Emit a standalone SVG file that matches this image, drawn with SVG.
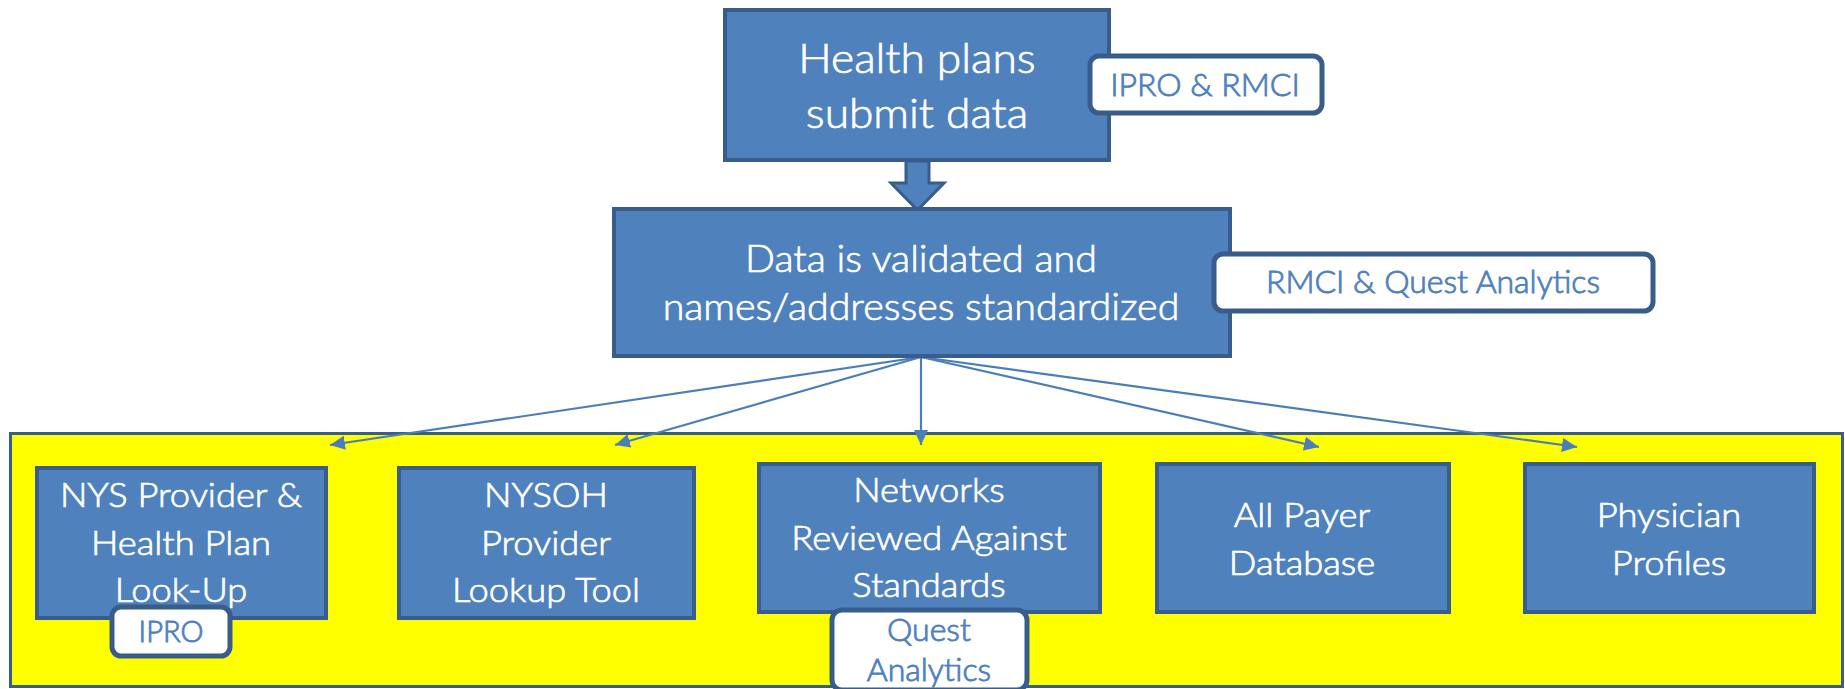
<svg xmlns="http://www.w3.org/2000/svg" width="1845" height="689" viewBox="0 0 1845 689">
  <style>
    .box { fill: #4f81bd; stroke: #385d8a; stroke-width: 4; }
    .lbl { fill: #ffffff; stroke: #385d8a; stroke-width: 5; }
    .t { font-family: Lato, "Open Sans", sans-serif; font-weight: 300; fill: #ffffff; stroke: #ffffff; stroke-width: 0.7; text-anchor: middle; transform-box: fill-box; transform-origin: center; transform: scaleX(1.1); }
    .top { font-size: 41px; transform: scaleX(1.08); }
    .big { font-size: 37.5px; transform: scaleX(1.05); }
    .mid { font-size: 33px; }
    .lt { font-family: Lato, "Open Sans", sans-serif; font-weight: 300; fill: #4f81bd; stroke: #4f81bd; stroke-width: 0.9; text-anchor: middle; }
    .conn { stroke: #4a7ebb; stroke-width: 2.2; fill: none; marker-end: url(#ah); }
  </style>
  <defs>
    <marker id="ah" markerUnits="userSpaceOnUse" markerWidth="16" markerHeight="16" viewBox="0 0 16 16" refX="15" refY="8" orient="auto">
      <path d="M0,1 L15,8 L0,15 Z" fill="#4a7ebb"/>
    </marker>
  </defs>

  <rect id="container" x="10.5" y="433.5" width="1832" height="253" fill="#ffff00" stroke="#385d8a" stroke-width="3"/>

  <g id="connectors">
    <path class="conn" d="M921,357 L330,445"/>
    <path class="conn" d="M921,357 L615,445"/>
    <path class="conn" d="M921,357 L921,445"/>
    <path class="conn" d="M921,357 L1319,447"/>
    <path class="conn" d="M921,357 L1577,447"/>
    <path id="block-arrow" d="M906,161 L929,161 L929,183 L944,183 L917.5,210 L891,183 L906,183 Z" fill="#4f81bd" stroke="#385d8a" stroke-width="3"/>
  </g>

  <g id="health-plans">
    <rect class="box" x="725" y="10" width="384" height="150"/>
    <text class="t top" x="917" y="73">Health plans</text>
    <text class="t top" x="917" y="128">submit data</text>
  </g>
  <g id="ipro-rmci">
    <rect class="lbl" x="1090" y="56" width="232" height="57" rx="9"/>
    <text class="lt" x="1205" y="96" font-size="32">IPRO &amp; RMCI</text>
  </g>

  <g id="data-validated">
    <rect class="box" x="614" y="209" width="616" height="147"/>
    <text class="t big" x="921" y="272">Data is validated and</text>
    <text class="t big" x="921" y="320">names/addresses standardized</text>
  </g>
  <g id="rmci-quest">
    <rect class="lbl" x="1214" y="254" width="439" height="57" rx="9"/>
    <text class="lt" x="1433" y="293" font-size="32">RMCI &amp; Quest Analytics</text>
  </g>

  <g id="nys-lookup">
    <rect class="box" x="37" y="468" width="289" height="150"/>
    <text class="t mid" x="181" y="507">NYS Provider &amp;</text>
    <text class="t mid" x="181" y="555">Health Plan</text>
    <text class="t mid" x="181" y="602">Look-Up</text>
  </g>
  <g id="ipro">
    <rect class="lbl" x="112" y="607" width="118" height="49" rx="9"/>
    <text class="lt" x="171" y="642" font-size="29">IPRO</text>
  </g>

  <g id="nysoh">
    <rect class="box" x="399" y="468" width="295" height="150"/>
    <text class="t mid" x="546" y="507">NYSOH</text>
    <text class="t mid" x="546" y="555">Provider</text>
    <text class="t mid" x="546" y="602">Lookup Tool</text>
  </g>

  <g id="networks">
    <rect class="box" x="759" y="464" width="341" height="148"/>
    <text class="t mid" x="929" y="502">Networks</text>
    <text class="t mid" x="929" y="550">Reviewed Against</text>
    <text class="t mid" x="929" y="597">Standards</text>
  </g>
  <g id="quest">
    <rect class="lbl" x="832" y="610" width="195" height="80" rx="10"/>
    <text class="lt" x="929" y="641" font-size="32">Quest</text>
    <text class="lt" x="929" y="681" font-size="32">Analytics</text>
  </g>

  <g id="all-payer">
    <rect class="box" x="1157" y="464" width="292" height="148"/>
    <text class="t mid" x="1302" y="527">All Payer</text>
    <text class="t mid" x="1302" y="575">Database</text>
  </g>

  <g id="physician">
    <rect class="box" x="1525" y="464" width="289" height="148"/>
    <text class="t mid" x="1669" y="527">Physician</text>
    <text class="t mid" x="1669" y="575">Profiles</text>
  </g>
</svg>
